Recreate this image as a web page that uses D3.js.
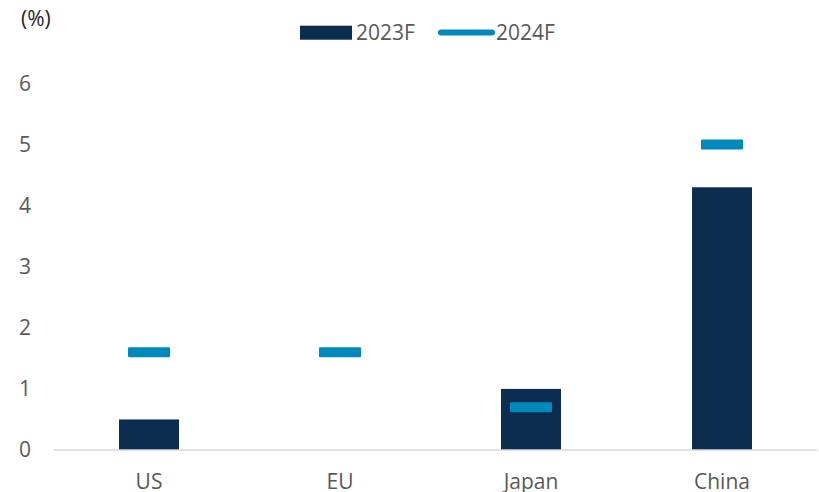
<!DOCTYPE html>
<html>
<head>
<meta charset="utf-8">
<script src="https://cdn.jsdelivr.net/npm/d3@7"></script>
<style>
  html, body { margin: 0; padding: 0; background: #fff; }
  svg { display: block; font-family: "Open Sans", sans-serif; }
</style>
</head>
<body>
<svg id="chart" width="819" height="492"></svg>
<script>
// GDP growth forecasts by economy
const categories = ["US", "EU", "Japan", "China"];
const forecast2023 = [0.5, 0, 1.0, 4.3];
const forecast2024 = [1.6, 1.6, 0.7, 5.0];
const yTicks = [0, 1, 2, 3, 4, 5, 6];
const seriesNames = ["2023F", "2024F"];

const navy = "#0c2d4f";
const blue = "#0089bd";
const textGrey = "#595959";
const fontSize = 21;

const svg = d3.select("#chart");

const x = d3.scaleBand()
  .domain(categories)
  .range([53.5, 817.5])
  .paddingInner(0)
  .paddingOuter(0);

const y = d3.scaleLinear()
  .domain([0, 6])
  .range([450, 83.4]);

const barW = 60;
const markW = 42;
const markH = 10;

// y axis labels (no line)
const yAxis = d3.axisLeft(y).tickValues(yTicks).tickSize(0).tickPadding(0).tickFormat(d3.format("d"));
const gy = svg.append("g").attr("transform", "translate(31,0)").call(yAxis);
gy.select(".domain").remove();
gy.selectAll("text")
  .attr("font-family", "Open Sans")
  .attr("font-size", fontSize)
  .attr("fill", textGrey);

// bars
svg.append("g").selectAll("rect")
  .data(categories.map((c, i) => ({ c, v: forecast2023[i] })))
  .join("rect")
  .attr("x", d => x(d.c) + x.bandwidth() / 2 - barW / 2)
  .attr("width", barW)
  .attr("y", d => y(d.v))
  .attr("height", d => y(0) - y(d.v))
  .attr("fill", navy);

// x axis baseline and labels
const xAxis = d3.axisBottom(x).tickSize(0).tickPadding(0);
const gx = svg.append("g").attr("transform", `translate(0,${y(0)})`).call(xAxis);
gx.select(".domain").attr("stroke", "#d9d9d9").attr("stroke-width", 1.5)
  .attr("d", `M${x.range()[0]},0H${x.range()[1]}`);
gx.selectAll(".tick text")
  .attr("font-family", "Open Sans")
  .attr("font-size", fontSize)
  .attr("fill", textGrey)
  .attr("dy", 0)
  .attr("y", 39);

// 2024F markers
svg.append("g").selectAll("rect")
  .data(categories.map((c, i) => ({ c, v: forecast2024[i] })))
  .join("rect")
  .attr("x", d => x(d.c) + x.bandwidth() / 2 - markW / 2)
  .attr("width", markW)
  .attr("y", d => y(d.v) - markH / 2)
  .attr("height", markH)
  .attr("rx", 1)
  .attr("fill", blue);

// unit label
svg.append("text")
  .attr("x", 21).attr("y", 26)
  .attr("font-size", fontSize)
  .attr("fill", "#262626")
  .text("(%)");

// legend
const legend = svg.append("g");
legend.append("rect")
  .attr("x", 300).attr("y", 25.7).attr("width", 52).attr("height", 14)
  .attr("fill", navy);
legend.append("text")
  .attr("x", 356).attr("y", 40)
  .attr("font-size", fontSize).attr("fill", textGrey)
  .text(seriesNames[0]);
legend.append("line")
  .attr("x1", 441).attr("x2", 492).attr("y1", 32.5).attr("y2", 32.5)
  .attr("stroke", blue).attr("stroke-width", 6).attr("stroke-linecap", "round");
legend.append("text")
  .attr("x", 496).attr("y", 40)
  .attr("font-size", fontSize).attr("fill", textGrey)
  .text(seriesNames[1]);
</script>
</body>
</html>
